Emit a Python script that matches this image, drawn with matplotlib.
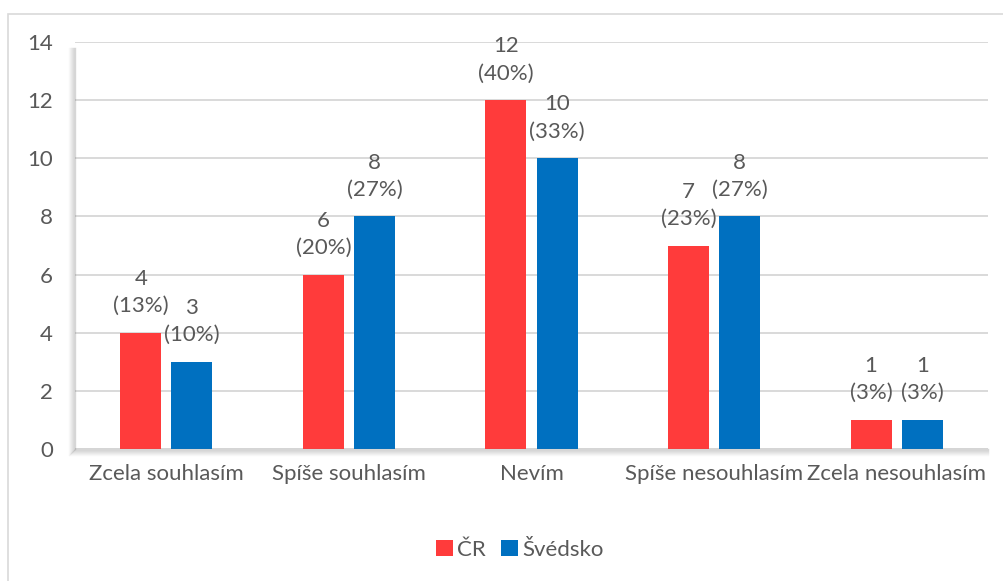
import matplotlib
matplotlib.use("Agg")
import matplotlib.pyplot as plt
from matplotlib.patches import Rectangle
from matplotlib.lines import Line2D
import numpy as np

categories = ["Zcela souhlasím", "Spíše souhlasím", "Nevím",
              "Spíše nesouhlasím", "Zcela nesouhlasím"]
cr_values = [4, 6, 12, 7, 1]
cr_pct = [13, 20, 40, 23, 3]
se_values = [3, 8, 10, 8, 1]
se_pct = [10, 27, 33, 27, 3]
series_names = ["ČR", "Švédsko"]
y_ticks = [0, 2, 4, 6, 8, 10, 12, 14]

RED = "#FF3B3B"
BLUE = "#0070C0"
TEXT = "#595959"
GRID = "#D9D9D9"
FS = 16

plt.rcParams["font.family"] = ["Lato", "DejaVu Sans"]

W, H = 1004, 581
fig = plt.figure(figsize=(W / 100, H / 100), dpi=100)

# outer chart frame
fig.patches.append(Rectangle((8 / W, -0.05), 1.1, 1 - 14 / H + 0.05,
                             transform=fig.transFigure, fill=False,
                             edgecolor=GRID, linewidth=1.2, zorder=0))

left, right, bottom, top = 75 / W, 988 / W, 1 - 449 / H, 1 - 42 / H
ax = fig.add_axes([left, bottom, right - left, top - bottom])

x = np.arange(len(categories))
bw = 0.225
off = 0.14
b1 = ax.bar(x - off, cr_values, bw, color=RED, zorder=3, label=series_names[0])
b2 = ax.bar(x + off, se_values, bw, color=BLUE, zorder=3, label=series_names[1])

for bars, vals, pcts in ((b1, cr_values, cr_pct), (b2, se_values, se_pct)):
    for bar, v, p in zip(bars, vals, pcts):
        ax.annotate(f"{v}\n({p}%)", (bar.get_x() + bar.get_width() / 2, v),
                    xytext=(0, 12), textcoords="offset points",
                    ha="center", va="bottom", fontsize=FS, color=TEXT,
                    linespacing=1.45, zorder=4)

ax.set_xlim(-0.5, len(categories) - 0.5)
ax.set_ylim(0, 14)
ax.set_yticks(y_ticks)
ax.set_xticks(x)
ax.set_xticklabels(categories)
ax.tick_params(axis="both", length=0, labelsize=FS, labelcolor=TEXT)
ax.tick_params(axis="y", pad=16)
ax.tick_params(axis="x", pad=11)
ax.yaxis.grid(True, color=GRID, linewidth=1.4, zorder=0)
ax.set_axisbelow(True)
for s in ax.spines.values():
    s.set_visible(False)

# shaded axis lines
for i in range(7):
    a = 0.28 * (1 - i / 7)
    fig.add_artist(Line2D([left - i / W, left - i / W], [bottom - i / H, top - 6 / H],
                          transform=fig.transFigure, color="#7F7F7F", alpha=a,
                          linewidth=1.0, zorder=5))
    fig.add_artist(Line2D([left - i / W, right], [bottom - i / H, bottom - i / H],
                          transform=fig.transFigure, color="#7F7F7F", alpha=a,
                          linewidth=1.0, zorder=5))

leg = fig.legend(handles=[b1, b2], labels=series_names, loc="center",
                 bbox_to_anchor=(520 / W, 1 - 550 / H), ncol=2, frameon=False,
                 fontsize=FS, handlelength=0.75, handleheight=0.75,
                 handletextpad=0.2, columnspacing=0.7)
for t in leg.get_texts():
    t.set_color(TEXT)

fig.savefig("out.png", dpi=100)
